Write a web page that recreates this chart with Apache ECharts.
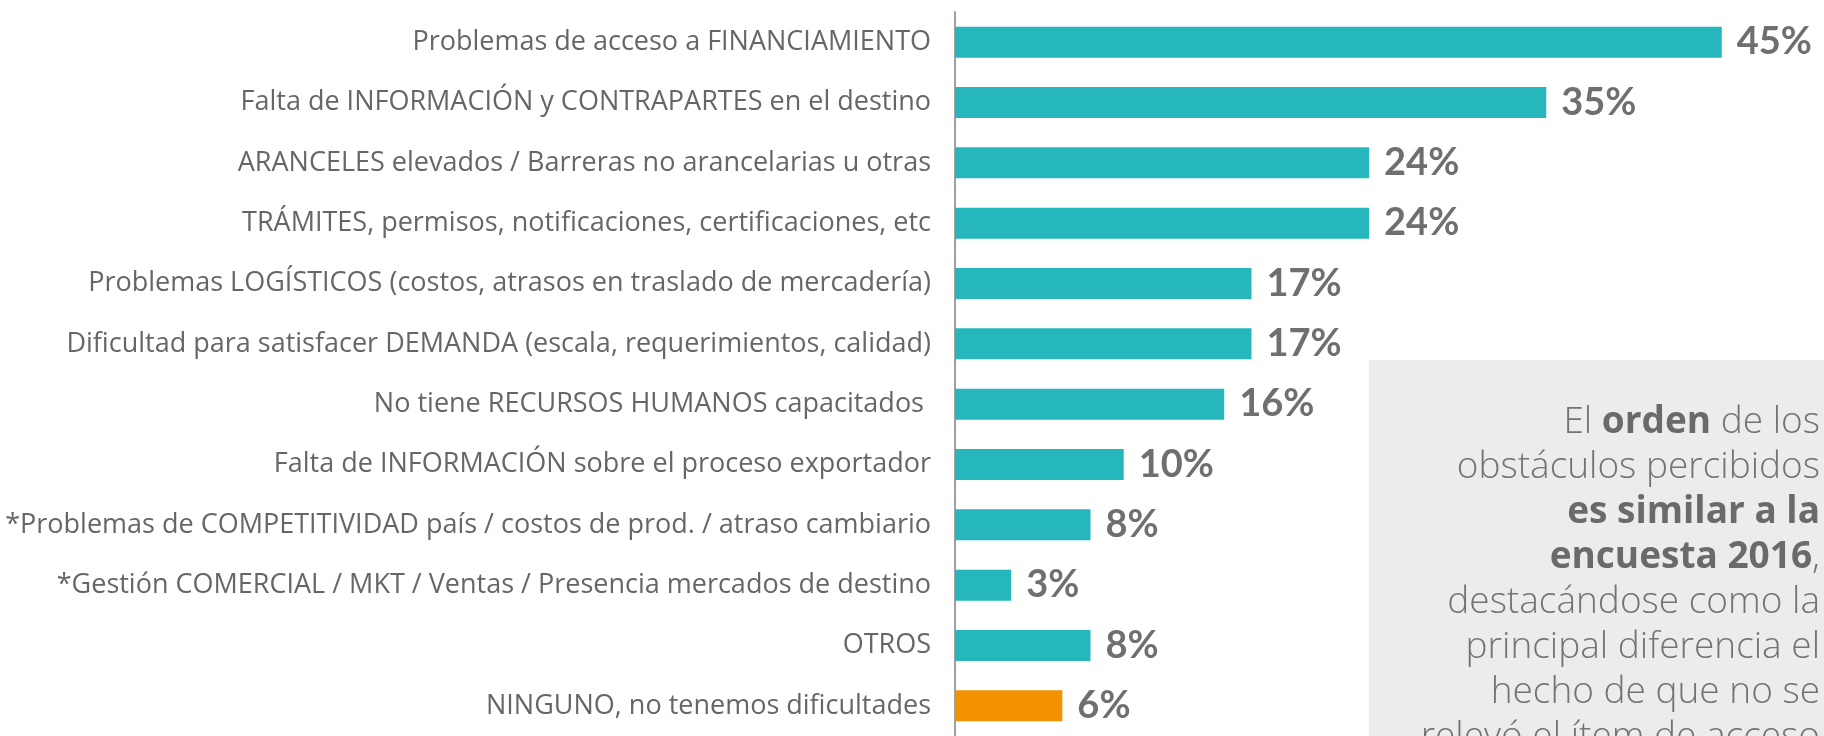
<!DOCTYPE html>
<html>
<head>
<meta charset="utf-8">
<title>Obstáculos percibidos</title>
<script src="https://cdn.jsdelivr.net/npm/echarts@6/dist/echarts.min.js"></script>
<style>
  html, body { margin: 0; padding: 0; background: #fff; }
  #chart { width: 1824px; height: 736px; }
</style>
</head>
<body>
<div id="chart"></div>
<script>
// categorias, de arriba hacia abajo
var categories = [
  "Problemas de acceso a FINANCIAMIENTO",
  "Falta de INFORMACIÓN y CONTRAPARTES en el destino",
  "ARANCELES elevados / Barreras no arancelarias u otras",
  "TRÁMITES, permisos, notificaciones, certificaciones, etc",
  "Problemas LOGÍSTICOS (costos, atrasos en traslado de mercadería)",
  "Dificultad para satisfacer DEMANDA (escala, requerimientos, calidad)",
  "No tiene RECURSOS HUMANOS capacitados ",
  "Falta de INFORMACIÓN sobre el proceso exportador",
  "*Problemas de COMPETITIVIDAD país / costos de prod. / atraso cambiario",
  "*Gestión COMERCIAL / MKT / Ventas / Presencia mercados de destino",
  "OTROS",
  "NINGUNO, no tenemos dificultades"
];
var values = [45.0, 34.7, 24.3, 24.3, 17.4, 17.4, 15.8, 9.9, 7.95, 3.3, 7.95, 6.3];
// el ultimo item va resaltado
var highlightIndex = 11;

var teal = "#25b7bc";
var orange = "#f39200";
var textGray = "#666666";

var chart = echarts.init(document.getElementById("chart"));

var barData = values.map(function(v, i) {
  return {
    value: v,
    itemStyle: { color: i === highlightIndex ? orange : teal }
  };
});

var noteText = [
  "{l|El }{b|orden}{l| de los}",
  "{l|obstáculos percibidos}",
  "{b|es similar a la}",
  "{b|encuesta 2016}{l|,}",
  "{l|destacándose como la}",
  "{l|principal diferencia el}",
  "{l|hecho de que no se}",
  "{l|relevó el ítem de acceso}"
].join("\n");

var option = {
  animation: false,
  grid: { left: 955, right: 0, top: 12, height: 726 },
  xAxis: {
    type: "value",
    min: 0,
    max: 51,
    show: false
  },
  yAxis: {
    type: "category",
    inverse: true,
    data: categories,
    axisLine: { lineStyle: { color: "#a0a0a0", width: 2 } },
    axisTick: { length: 9, lineStyle: { color: "#a0a0a0", width: 2 } },
    axisLabel: {
      margin: 24,
      color: textGray,
      fontSize: 27,
      fontWeight: 500,
      fontFamily: "Open Sans"
    }
  },
  series: [
    {
      type: "bar",
      data: barData,
      barWidth: 31,
      label: {
        show: true,
        position: "right",
        distance: 15,
        color: "#6f6f6f",
        fontSize: 38,
        fontWeight: "bold",
        fontFamily: "Lato",
        formatter: function(p) {
          return Math.round(p.value) + "%";
        }
      }
    }
  ],
  graphic: [
    {
      type: "rect",
      z: 10,
      shape: { x: 1369, y: 360, width: 460, height: 380 },
      style: { fill: "#ececec" }
    },
    {
      type: "text",
      z: 11,
      x: 1820,
      y: 400,
      style: {
        text: noteText,
        align: "right",
        verticalAlign: "top",
        rich: {
          l: { fontSize: 37, fontWeight: 300, fontFamily: "Open Sans", fill: "#737373", lineHeight: 45 },
          b: { fontSize: 37, fontWeight: "bold", fontFamily: "Open Sans", fill: "#6a6a6a", lineHeight: 45 }
        }
      }
    }
  ]
};

chart.setOption(option);
</script>
</body>
</html>
